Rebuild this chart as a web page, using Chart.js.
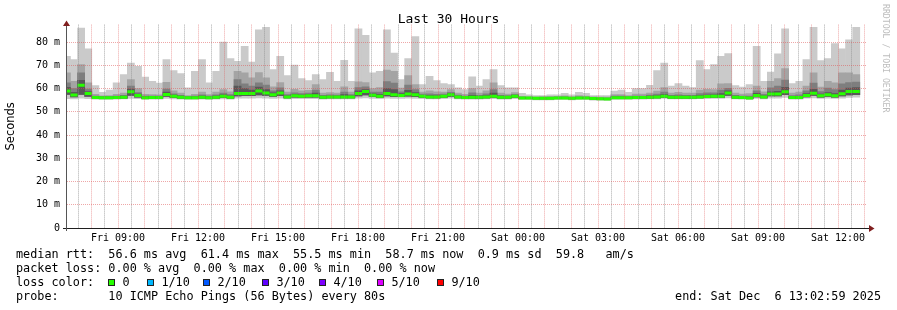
<!DOCTYPE html>
<html>
<head>
<meta charset="utf-8">
<title>Last 30 Hours</title>
<script src="https://cdn.jsdelivr.net/npm/chart.js@4.4.1/dist/chart.umd.min.js"></script>
<style>
  html, body { margin:0; padding:0; background:#fff; }
  #wrap { position:relative; width:897px; height:310px; overflow:hidden; background:#fff; }
  #chart { position:absolute; left:0; top:0; }
  .txt { position:absolute; font-family:'DejaVu Sans Mono', monospace; font-size:11.8px; line-height:14px; white-space:pre; color:#000; }
  .sw { position:absolute; width:7px; height:7px; box-sizing:border-box; border:1px solid #222; }
  #wm { position:absolute; left:881px; top:4px; font-family:'DejaVu Sans Mono', monospace; font-size:8.2px; line-height:10px; color:#bdbdbd; writing-mode:vertical-rl; white-space:pre; }
</style>
</head>
<body>
<div id="wrap">
  <canvas id="chart" width="897" height="310"></canvas>
  <div id="legend"></div>
  <div id="wm">RRDTOOL / TOBI OETIKER</div>
</div>
<script>
// ---------------- data (ms), one value per 16-minute consolidated row ----------------
const graphMinutes = 1800;      // 30 hours, Fri 07:02:59 -> Sat 13:02:59
const firstRowEnd = 10;         // first (partial) row ends 10 min after graph start
const blockMinutes = 16;
const firstHourMinute = 57 + 1 / 60;   // Fri 08:00:00 relative to graph start

const maxRtt = [
73.9, 72.4, 86.0, 77.1, 61.3, 58.4, 59.3, 62.4, 66.0, 70.9,
69.6, 64.9, 63.1, 62.3, 72.4, 67.7, 66.4, 60.3, 67.4, 72.4,
62.4, 67.4, 80.0, 72.9, 71.7, 78.1, 71.4, 85.3, 86.3, 68.1,
73.9, 65.6, 70.1, 64.3, 63.4, 66.0, 63.9, 67.0, 63.1, 72.1,
63.1, 85.7, 82.9, 66.7, 67.4, 85.3, 75.3, 63.9, 72.9, 82.4,
61.7, 65.3, 63.4, 62.1, 61.7, 60.3, 59.6, 65.0, 61.0, 63.9,
68.1, 61.3, 60.3, 60.3, 57.9, 57.3, 57.0, 57.0, 57.3, 57.3,
57.9, 57.3, 58.4, 57.9, 57.0, 57.0, 57.0, 58.9, 59.3, 58.4,
60.0, 60.0, 61.4, 67.7, 70.9, 61.0, 62.1, 61.0, 60.4, 72.0,
68.1, 70.3, 73.9, 75.0, 61.3, 60.6, 61.7, 78.1, 63.1, 67.1,
74.9, 85.7, 62.1, 63.1, 72.4, 86.3, 72.0, 72.9, 79.3, 77.1,
81.0, 86.3];

const rtt9 = [
66.7, 63.1, 70.3, 62.4, 57.5, 56.9, 57.0, 57.5, 58.0, 63.9,
60.0, 57.5, 57.4, 57.3, 62.7, 59.0, 58.0, 57.0, 57.5, 58.5,
57.4, 58.5, 59.5, 58.6, 67.4, 66.7, 64.6, 66.9, 64.6, 60.7,
62.6, 58.5, 59.7, 59.0, 59.2, 61.7, 58.0, 58.3, 58.0, 60.7,
58.5, 62.9, 62.6, 60.0, 60.4, 67.9, 67.4, 60.2, 65.6, 61.7,
58.5, 59.0, 58.6, 58.5, 59.5, 58.0, 57.5, 60.0, 58.0, 59.0,
62.4, 58.0, 57.6, 58.3, 56.6, 56.5, 56.4, 56.5, 56.6, 56.6,
56.9, 56.5, 57.0, 56.8, 56.4, 56.3, 56.3, 57.4, 57.4, 57.0,
57.6, 57.6, 58.0, 58.9, 60.4, 58.0, 58.4, 58.0, 58.0, 59.3,
59.7, 59.6, 62.0, 62.1, 58.0, 57.6, 57.8, 61.0, 58.6, 63.1,
64.3, 68.6, 58.0, 58.5, 61.0, 66.7, 60.6, 63.1, 62.4, 66.7,
66.7, 66.0];

const rtt8 = [
62.5, 60.0, 66.7, 59.8, 56.8, 56.5, 56.5, 56.8, 57.1, 61.0,
58.3, 56.8, 56.8, 56.7, 59.8, 57.7, 57.1, 56.5, 56.7, 57.3,
56.7, 57.3, 58.0, 57.4, 63.9, 62.0, 61.0, 62.5, 61.5, 59.0,
60.3, 57.4, 58.2, 57.8, 58.0, 59.3, 57.1, 57.3, 57.2, 58.5,
57.4, 60.4, 60.7, 58.5, 58.5, 63.0, 62.3, 58.6, 61.5, 59.5,
57.6, 57.7, 57.5, 57.6, 58.4, 57.2, 56.8, 58.1, 57.1, 57.7,
59.5, 57.1, 57.0, 57.5, 56.3, 56.2, 56.1, 56.1, 56.2, 56.3,
56.4, 56.2, 56.4, 56.3, 56.0, 55.9, 55.9, 56.7, 56.7, 56.5,
56.8, 56.8, 57.2, 57.6, 58.5, 57.1, 57.3, 57.1, 57.1, 57.8,
58.1, 58.1, 59.3, 60.1, 57.1, 56.8, 56.8, 59.0, 57.5, 60.3,
61.0, 63.6, 57.0, 57.3, 59.0, 62.3, 58.7, 60.2, 59.6, 62.0,
62.6, 62.8];

const rtt7 = [
60.5, 58.4, 63.5, 58.7, 56.5, 56.3, 56.3, 56.5, 56.7, 59.8,
57.6, 56.4, 56.5, 56.4, 58.5, 57.2, 56.7, 56.3, 56.3, 56.8,
56.3, 56.8, 57.3, 56.8, 61.0, 60.0, 59.3, 60.6, 59.5, 58.1,
59.0, 56.9, 57.5, 57.2, 57.4, 58.0, 56.7, 56.8, 56.8, 57.4,
56.9, 59.0, 59.6, 57.7, 57.5, 60.0, 59.5, 57.8, 59.2, 58.3,
57.1, 57.0, 56.9, 57.1, 57.8, 56.8, 56.4, 57.1, 56.7, 57.0,
58.0, 56.7, 56.6, 57.1, 56.1, 56.1, 56.0, 56.0, 56.0, 56.1,
56.2, 56.0, 56.1, 56.1, 55.9, 55.8, 55.7, 56.3, 56.3, 56.2,
56.4, 56.4, 56.7, 56.9, 57.4, 56.7, 56.8, 56.7, 56.7, 57.0,
57.2, 57.3, 57.8, 59.0, 56.7, 56.4, 56.3, 57.9, 56.9, 58.6,
58.8, 60.5, 56.5, 56.6, 57.8, 59.7, 57.6, 58.3, 57.8, 59.3,
60.2, 60.4];

const medianRtt = [
58.9, 57.2, 61.4, 57.9, 56.1, 56.0, 56.0, 56.1, 56.3, 58.6,
57.0, 56.0, 56.1, 56.1, 57.4, 56.7, 56.3, 56.0, 56.0, 56.3,
56.0, 56.3, 56.7, 56.3, 57.9, 57.9, 57.9, 58.9, 58.1, 57.3,
58.1, 56.4, 56.9, 56.7, 56.9, 56.9, 56.3, 56.4, 56.4, 56.4,
56.4, 57.9, 58.7, 57.1, 56.7, 57.9, 57.3, 57.0, 57.6, 57.3,
56.7, 56.4, 56.4, 56.7, 57.3, 56.4, 56.1, 56.3, 56.3, 56.4,
56.7, 56.3, 56.3, 56.7, 55.9, 55.9, 55.8, 55.8, 55.8, 55.9,
55.9, 55.8, 55.9, 55.9, 55.7, 55.6, 55.5, 56.0, 56.0, 56.0,
56.1, 56.1, 56.3, 56.4, 56.7, 56.3, 56.3, 56.3, 56.3, 56.4,
56.6, 56.7, 56.7, 58.1, 56.3, 56.1, 55.9, 57.0, 56.4, 57.6,
57.6, 58.6, 56.1, 56.1, 57.0, 58.0, 56.9, 57.3, 56.9, 57.7,
58.7, 58.7];

const lowRtt = [
57.5, 56.4, 57.5, 56.6, 55.8, 55.7, 55.7, 55.8, 55.9, 57.0,
56.3, 55.7, 55.8, 55.8, 56.6, 56.1, 55.9, 55.7, 55.7, 55.9,
55.7, 55.9, 56.1, 55.9, 56.8, 56.9, 56.9, 57.2, 57.0, 56.6,
56.9, 56.0, 56.3, 56.2, 56.3, 56.3, 55.9, 56.0, 56.0, 56.0,
56.0, 56.8, 57.3, 56.5, 56.2, 56.8, 56.5, 56.5, 56.7, 56.5,
56.2, 56.0, 56.0, 56.2, 56.6, 56.0, 55.8, 55.9, 55.9, 56.0,
56.2, 55.9, 55.9, 56.2, 55.6, 55.6, 55.5, 55.5, 55.5, 55.6,
55.6, 55.5, 55.6, 55.6, 55.4, 55.3, 55.2, 55.7, 55.7, 55.7,
55.8, 55.8, 55.9, 56.0, 56.2, 55.9, 55.9, 55.9, 55.9, 56.0,
56.1, 56.2, 56.2, 57.0, 55.9, 55.8, 55.6, 56.4, 56.0, 56.8,
56.8, 57.4, 55.8, 55.8, 56.4, 57.0, 56.3, 56.6, 56.3, 56.8,
57.3, 57.4];

const minRtt = [
55.6, 55.5, 55.8, 55.6, 55.4, 55.3, 55.3, 55.4, 55.5, 55.7,
55.6, 55.3, 55.4, 55.4, 55.7, 55.5, 55.4, 55.3, 55.3, 55.4,
55.3, 55.4, 55.5, 55.4, 55.8, 55.9, 55.9, 56.0, 55.9, 55.7,
55.8, 55.5, 55.6, 55.6, 55.6, 55.6, 55.4, 55.5, 55.5, 55.5,
55.5, 55.8, 56.0, 55.7, 55.6, 55.8, 55.7, 55.7, 55.8, 55.7,
55.6, 55.5, 55.5, 55.6, 55.8, 55.5, 55.4, 55.4, 55.4, 55.5,
55.6, 55.4, 55.4, 55.6, 55.2, 55.2, 55.1, 55.1, 55.1, 55.2,
55.2, 55.1, 55.2, 55.2, 55.0, 54.9, 54.9, 55.3, 55.3, 55.3,
55.4, 55.4, 55.5, 55.5, 55.7, 55.5, 55.5, 55.5, 55.5, 55.6,
55.6, 55.7, 55.7, 56.0, 55.5, 55.4, 55.2, 55.7, 55.5, 55.9,
55.9, 56.2, 55.4, 55.4, 55.8, 56.0, 55.7, 55.8, 55.7, 55.9,
56.2, 56.3];

const xTickLabels = ['Fri 09:00','Fri 12:00','Fri 15:00','Fri 18:00','Fri 21:00',
                     'Sat 00:00','Sat 03:00','Sat 06:00','Sat 09:00','Sat 12:00'];
const yTickValues = [0,5,10,15,20,25,30,35,40,45,50,55,60,65,70,75,80,85];
const yMax = 87.5;

const lossLabels = ['0','1/10','2/10','3/10','4/10','5/10','9/10'];
const lossColors = ['#26ff00','#00b8ff','#0059ff','#5e00ff','#7e00ff','#dd00ff','#ff0000'];

const legendLines = [
  'median rtt:  56.6 ms avg  61.4 ms max  55.5 ms min  58.7 ms now  0.9 ms sd  59.8   am/s',
  'packet loss: 0.00 % avg  0.00 % max  0.00 % min  0.00 % now',
  'loss color:',
  'probe:       10 ICMP Echo Pings (56 Bytes) every 80s'
];
const endLabel = 'end: Sat Dec  6 13:02:59 2025';

// ---------------- derived helpers ----------------
const blockMid = maxRtt.map((_, i) => firstRowEnd + blockMinutes * (i - 1) + blockMinutes / 2);
const gridMinutes = [];
for (let m = firstHourMinute - 30; m < graphMinutes; m += 30) gridMinutes.push(m);

const MGRID = 'rgba(222,79,79,0.5)';
const GRID = 'rgba(143,143,143,0.75)';

function halfIndex(v) { return Math.round((v - firstHourMinute) / 30); }
function isHour(v) { return halfIndex(v) % 2 === 0; }
function xLabel(v) {
  const h = halfIndex(v);
  if (h % 2 !== 0) return '';
  const hour = h / 2;              // hours after 08:00
  if ((hour - 1) % 3 !== 0) return '';
  const k = (hour - 1) / 3;
  return xTickLabels[k] || '';
}
function yLabel(v) {
  if (v % 10 !== 0) return '';
  return v === 0 ? '0' : v + ' m';
}

Chart.defaults.font.family = "'DejaVu Sans Mono', monospace";
Chart.defaults.color = '#000';

function smoke(lo, hi, color, order) {
  return {
    type: 'bar',
    data: blockMid.map((x, i) => ({ x: x, y: [lo[i], hi[i]] })),
    backgroundColor: color,
    borderWidth: 0,
    grouped: false,
    barPercentage: 1,
    categoryPercentage: 1,
    order: order,
    clip: 0
  };
}

function halfBlockPx(ctx) {
  const s = ctx.chart.scales.x;
  return (s.getPixelForValue(blockMinutes) - s.getPixelForValue(0)) / 2;
}

const datasets = [
  smoke(minRtt, maxRtt, '#cacaca', 5),
  smoke(lowRtt, rtt9, '#a4a4a4', 4),
  smoke(lowRtt, rtt8, '#7e7e7e', 3),
  smoke(lowRtt, rtt7, '#585858', 2),
  {
    type: 'line',
    data: blockMid.map((x, i) => ({ x: x, y: medianRtt[i] })),
    showLine: false,
    pointStyle: 'line',
    pointRadius: halfBlockPx,
    pointHoverRadius: halfBlockPx,
    pointBorderWidth: 3,
    pointBorderColor: lossColors[0],
    pointBackgroundColor: lossColors[0],
    order: 0,
    clip: 0
  }
];

const axisArrows = {
  id: 'axisArrows',
  afterDraw(chart) {
    const { ctx, chartArea: a } = chart;
    const yb = Math.round(a.bottom) + 0.5;
    const xl = Math.round(a.left) + 0.5;
    ctx.save();
    ctx.lineWidth = 1;
    ctx.strokeStyle = '#1f1f1f';
    ctx.beginPath();
    ctx.moveTo(a.left - 3, yb); ctx.lineTo(a.right + 3, yb);
    ctx.stroke();
    ctx.strokeStyle = '#555';
    ctx.beginPath();
    ctx.moveTo(xl, a.bottom + 3); ctx.lineTo(xl, a.top);
    ctx.stroke();
    ctx.fillStyle = '#801f1f';
    ctx.beginPath();
    ctx.moveTo(a.right + 8.5, yb);
    ctx.lineTo(a.right + 3, yb - 3.5);
    ctx.lineTo(a.right + 3, yb + 3.5);
    ctx.closePath(); ctx.fill();
    ctx.beginPath();
    ctx.moveTo(xl, a.top - 4);
    ctx.lineTo(xl - 3.5, a.top + 1.5);
    ctx.lineTo(xl + 3.5, a.top + 1.5);
    ctx.closePath(); ctx.fill();
    ctx.restore();
  }
};

new Chart(document.getElementById('chart'), {
  type: 'bar',
  data: { datasets: datasets },
  options: {
    responsive: false,
    animation: false,
    devicePixelRatio: 1,
    events: [],
    layout: { padding: { left: 0, right: 0, top: 0, bottom: 62 } },
    plugins: {
      legend: { display: false },
      tooltip: { enabled: false },
      title: {
        display: true,
        text: 'Last 30 Hours',
        color: '#000',
        font: { family: "'DejaVu Sans Mono', monospace", size: 13, weight: 'normal', lineHeight: 1.2 },
        padding: { top: 12, bottom: -3 }
      }
    },
    scales: {
      x: {
        type: 'linear',
        min: 0,
        max: graphMinutes,
        offset: false,
        afterBuildTicks: s => { s.ticks = gridMinutes.map(v => ({ value: v })); },
        ticks: {
          autoSkip: false, maxRotation: 0, minRotation: 0, padding: 4,
          font: { size: 10 }, color: '#000', z: 2,
          callback: v => xLabel(v)
        },
        grid: {
          offset: false, drawTicks: false, lineWidth: 1, z: 1,
          color: ctx => (ctx.tick && isHour(ctx.tick.value)) ? MGRID : GRID
        },
        border: { display: true, color: '#1f1f1f', width: 1, dash: [1, 1], z: 2 },
        afterFit: s => { s.height = 20; s.paddingLeft = 0; s.paddingRight = 0; }
      },
      y: {
        type: 'linear',
        position: 'left',
        min: 0,
        max: yMax,
        afterBuildTicks: s => { s.ticks = yTickValues.map(v => ({ value: v })); },
        ticks: { padding: 6, font: { size: 10 }, color: '#000', z: 2, callback: v => yLabel(v) },
        grid: {
          drawTicks: false, lineWidth: 1, z: 1,
          color: ctx => (ctx.tick && ctx.tick.value % 10 === 0) ? MGRID : GRID
        },
        border: { display: true, color: '#555', width: 1, dash: [1, 1], z: 2 },
        title: {
          display: true, text: 'Seconds', color: '#000',
          font: { family: "'DejaVu Sans', sans-serif", size: 11.5, weight: 'normal' },
          padding: { top: 4, bottom: 0 }
        },
        afterFit: s => { s.width = 66; s.paddingTop = 0; s.paddingBottom = 0; }
      },
      y2: {
        type: 'linear',
        position: 'right',
        display: true,
        grid: { display: false, drawOnChartArea: false, drawTicks: false },
        ticks: { display: false },
        border: { display: false },
        afterFit: s => { s.width = 31; s.paddingTop = 0; s.paddingBottom = 0; }
      }
    }
  },
  plugins: [axisArrows]
});

// ---------------- text legend below the plot ----------------
const legend = document.getElementById('legend');
function addText(str, left, top) {
  const d = document.createElement('div');
  d.className = 'txt';
  d.textContent = str;
  d.style.left = left + 'px';
  d.style.top = top + 'px';
  legend.appendChild(d);
  return d;
}
const lineTops = [247, 261, 275, 289];
legendLines.forEach((s, i) => addText(s, 16, lineTops[i]));
const swatchLeft = [108, 147, 203, 262, 319, 377, 437];
lossLabels.forEach((lab, i) => {
  const sw = document.createElement('div');
  sw.className = 'sw';
  sw.style.left = swatchLeft[i] + 'px';
  sw.style.top = '279px';
  sw.style.background = lossColors[i];
  legend.appendChild(sw);
  addText(lab, swatchLeft[i] + 14.4, lineTops[2]);
});
const endDiv = addText(endLabel, 0, lineTops[3]);
endDiv.style.left = 'auto';
endDiv.style.right = '16px';
</script>
</body>
</html>
